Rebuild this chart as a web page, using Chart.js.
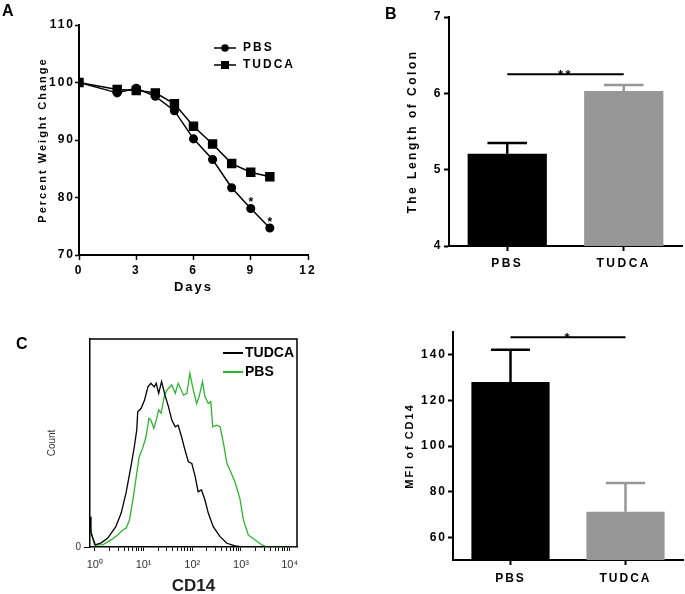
<!DOCTYPE html>
<html>
<head>
<meta charset="utf-8">
<script src="https://cdn.jsdelivr.net/npm/chart.js@4"></script>
<style>
	body { margin: 0; background: #fff; overflow: hidden; width: 685px; height: 594px; position: relative; font-family: 'Liberation Sans', Arial, sans-serif; }
	canvas { position: absolute; }
	.tag { position: absolute; font-weight: bold; font-size: 16px; line-height: 16px; color: #000; }
</style>
</head>
<body>
<canvas id="weight-chart" width="330" height="300" style="left:0;top:0"></canvas>
<canvas id="colon-chart" width="345" height="300" style="left:340px;top:0"></canvas>
<canvas id="hist-chart" width="340" height="300" style="left:0;top:300px"></canvas>
<canvas id="mfi-chart" width="340" height="294" style="left:345px;top:300px"></canvas>
<div class="tag" style="left:2px;top:3px">A</div>
<div class="tag" style="left:385px;top:6px">B</div>
<div class="tag" style="left:16px;top:336px">C</div>
<script>
// Weight curve (panel A)
const days = [0, 2, 3, 4, 5, 6, 7, 8, 9, 10];
const weightPBS = [100, 98.2, 99.0, 97.6, 95.1, 90.2, 86.6, 81.7, 78.1, 74.7];
const weightTUDCA = [100, 98.8, 98.6, 98.2, 96.3, 92.4, 89.3, 85.9, 84.4, 83.6];
const weightSigDays = [9, 10];

// Bars (panels B and D)
const groups = ['PBS', 'TUDCA'];
const colonMean = [5.21, 6.03];
const colonSem = [0.14, 0.08];
const mfiMean = [128.1, 71.2];
const mfiSem = [14.1, 12.6];
const mfiTicks = [60, 80, 100, 120, 140];

// CD14 histogram (panel C), x in decades (10^x), y in % of frame height
const tudcaDecade = [-0.1, -0.08, 0.01, 0.13, 0.26, 0.43, 0.54, 0.64, 0.74, 0.81, 0.86, 0.88, 0.95, 1.02, 1.09, 1.15, 1.22, 1.26, 1.31, 1.37, 1.44, 1.51, 1.58, 1.65, 1.71, 1.78, 1.85, 1.92, 1.99, 2.06, 2.12, 2.19, 2.26, 2.33, 2.43, 2.57, 2.71, 2.88, 3.02, 4.15];
const tudcaCount = [14.6, 6.7, 1, 2, 4.2, 9.8, 16.3, 26, 38.6, 48.2, 56.3, 65, 66.7, 70.7, 77, 78.7, 77, 78.7, 73.9, 79.5, 73, 67.5, 61, 57.8, 58.6, 53, 46.6, 41, 40.2, 33.8, 26.6, 27.4, 22.6, 16.2, 9.8, 5, 1.8, 0.5, 0, 0];
const pbsDecade = [-0.1, -0.01, 0.16, 0.33, 0.47, 0.57, 0.64, 0.71, 0.78, 0.85, 0.91, 0.98, 1.05, 1.11, 1.15, 1.21, 1.26, 1.31, 1.36, 1.43, 1.48, 1.58, 1.65, 1.71, 1.82, 1.89, 1.95, 2.02, 2.09, 2.14, 2.21, 2.26, 2.33, 2.38, 2.42, 2.50, 2.57, 2.64, 2.71, 2.81, 2.88, 2.98, 3.05, 3.15, 3.29, 3.43, 3.53, 4.15];
const pbsCount = [9.8, 1, 1, 3.4, 5.8, 8.2, 9, 13, 22.6, 33.8, 43.4, 47.4, 53, 61.9, 61, 57, 61, 65.9, 64.3, 73, 75.5, 77.9, 73.9, 78.7, 73, 73.9, 83.5, 75.5, 69, 72.3, 79.5, 72.3, 69, 69.9, 57.8, 58.6, 57.8, 49.9, 40.2, 35, 31, 23, 13, 5.8, 3.4, 1, 0, 0];
const decades = [0, 1, 2, 3, 4];
const sup = ['\u2070', '\u00b9', '\u00b2', '\u00b3', '\u2074'];

const FONT = "'Liberation Sans', Arial, sans-serif";
Chart.defaults.font.family = FONT;
Chart.defaults.color = '#000';

// letter spacing for the spaced-out GraphPad text
const spacing = {
	id: 'spacing',
	beforeDraw(chart, args, opts) {
		chart.ctx.letterSpacing = (opts.px || 0) + 'px';
	}
};

// little legend: line (+ marker) and label
const miniLegend = {
	id: 'miniLegend',
	afterDraw(chart, args, o) {
		const ctx = chart.ctx;
		chart.data.datasets.forEach((ds, i) => {
			const y = o.y + i * o.gap;
			ctx.save();
			ctx.strokeStyle = ds.borderColor;
			ctx.fillStyle = ds.borderColor;
			ctx.lineWidth = o.lineWidth;
			ctx.beginPath();
			ctx.moveTo(o.x, y);
			ctx.lineTo(o.x + o.len, y);
			ctx.stroke();
			if (o.marker) {
				const cx = o.x + o.len / 2;
				if (ds.pointStyle === 'rect') {
					ctx.fillRect(cx - 4, y - 4, 8, 8);
				} else {
					ctx.beginPath();
					ctx.arc(cx, y, ds.pointRadius, 0, Math.PI * 2);
					ctx.fill();
				}
			}
			ctx.fillStyle = '#000';
			ctx.font = o.font;
			ctx.textBaseline = 'middle';
			ctx.fillText(ds.label, o.x + o.len + o.textGap, y);
			ctx.restore();
		});
	}
};

// stars over significant days
const weightStars = {
	id: 'weightStars',
	afterDatasetsDraw(chart) {
		const ctx = chart.ctx;
		const meta = chart.getDatasetMeta(0);
		ctx.save();
		ctx.font = 'bold 12px ' + FONT;
		ctx.textAlign = 'center';
		ctx.textBaseline = 'alphabetic';
		days.forEach((d, i) => {
			if (weightSigDays.includes(d)) {
				const p = meta.data[i];
				ctx.fillText('*', p.x + 1, p.y - 2);
			}
		});
		ctx.restore();
	}
};

// error bars + significance line for bar panels
const barExtras = {
	id: 'barExtras',
	afterDatasetsDraw(chart, args, o) {
		const {ctx, scales: {x, y}} = chart;
		const meta = chart.getDatasetMeta(0);
		ctx.save();
		meta.data.forEach((bar, i) => {
			const top = y.getPixelForValue(o.means[i] + o.sems[i]);
			ctx.strokeStyle = o.colors[i];
			ctx.lineWidth = 2.5;
			ctx.beginPath();
			ctx.moveTo(bar.x, bar.y);
			ctx.lineTo(bar.x, top);
			ctx.moveTo(bar.x - bar.width / 4, top);
			ctx.lineTo(bar.x + bar.width / 4, top);
			ctx.stroke();
		});
		const x0 = x.getPixelForValue(0);
		const x1 = x.getPixelForValue(1);
		const ys = y.getPixelForValue(o.sigAt);
		ctx.strokeStyle = '#000';
		ctx.lineWidth = 2;
		ctx.beginPath();
		ctx.moveTo(x0, ys);
		ctx.lineTo(x1, ys);
		ctx.stroke();
		ctx.fillStyle = '#000';
		ctx.font = 'bold 13px ' + FONT;
		ctx.textAlign = 'center';
		ctx.textBaseline = 'alphabetic';
		ctx.fillText(o.sigText, (x0 + x1) / 2, ys + 5);
		ctx.restore();
	}
};

// box around the histogram
const frame = {
	id: 'frame',
	afterDraw(chart) {
		const {ctx, chartArea: a} = chart;
		ctx.save();
		ctx.strokeStyle = '#000';
		ctx.lineWidth = 1.5;
		ctx.beginPath();
		ctx.moveTo(a.left, a.top);
		ctx.lineTo(a.right, a.top);
		ctx.lineTo(a.right, a.bottom);
		ctx.stroke();
		ctx.restore();
	}
};

const boldTick = size => ({ size: size, weight: 'bold' });

// Panel A: weight change
new Chart(document.getElementById('weight-chart'), {
	type: 'line',
	data: {
		datasets: [{
			label: 'PBS',
			data: days.map((d, i) => ({ x: d, y: weightPBS[i] })),
			borderColor: '#000',
			backgroundColor: '#000',
			borderWidth: 1.5,
			pointStyle: 'circle',
			pointRadius: 3.8,
			tension: 0
		}, {
			label: 'TUDCA',
			data: days.map((d, i) => ({ x: d, y: weightTUDCA[i] })),
			borderColor: '#000',
			backgroundColor: '#000',
			borderWidth: 1.5,
			pointStyle: 'rect',
			pointRadius: 5.6,
			tension: 0
		}]
	},
	options: {
		responsive: false,
		animation: false,
		layout: { padding: { top: 25, right: 22, left: 0, bottom: 0 } },
		plugins: {
			legend: { display: false },
			tooltip: { enabled: false },
			spacing: { px: 2 },
			miniLegend: { x: 214, y: 48, gap: 17, len: 22, lineWidth: 1.5, marker: true, textGap: 7, font: 'bold 12px ' + FONT }
		},
		scales: {
			x: {
				type: 'linear',
				min: 0,
				max: 12,
				afterFit: s => { s.height = 45; },
				ticks: { stepSize: 3, font: boldTick(12), padding: 3 },
				grid: { drawOnChartArea: false, tickLength: 5, tickColor: '#000', tickWidth: 1.5 },
				border: { color: '#000', width: 2 },
				title: { display: true, text: 'Days', font: boldTick(13), padding: { top: 0, bottom: 5 } }
			},
			y: {
				min: 70,
				max: 110,
				afterFit: s => { s.width = 79; },
				ticks: { stepSize: 10, font: boldTick(12), padding: 0 },
				grid: { drawOnChartArea: false, tickLength: 4, tickColor: '#000', tickWidth: 1.5 },
				border: { color: '#000', width: 2 },
				title: { display: true, text: 'Percent Weight Change', font: boldTick(11), padding: { top: 36, bottom: 0 } }
			}
		}
	},
	plugins: [spacing, miniLegend, weightStars]
});

// Panels B and D: bar charts with error bars
function barPanel(id, means, sems, o) {
	new Chart(document.getElementById(id), {
		type: 'bar',
		data: {
			labels: groups,
			datasets: [{
				data: means,
				backgroundColor: ['#000', '#979797'],
				borderWidth: 0,
				categoryPercentage: 1,
				barPercentage: 0.68
			}]
		},
		options: {
			responsive: false,
			animation: false,
			layout: { padding: o.padding },
			plugins: {
				legend: { display: false },
				tooltip: { enabled: false },
				spacing: { px: o.spacing },
				barExtras: { means: means, sems: sems, colors: ['#000', '#979797'], sigAt: o.sigAt, sigText: o.sigText }
			},
			scales: {
				x: {
					afterFit: s => { s.height = o.xHeight; },
					ticks: { font: boldTick(12), padding: o.xPad },
					grid: { offset: false, drawOnChartArea: false, tickLength: 5, tickColor: '#000', tickWidth: 2 },
					border: { color: '#000', width: 2 }
				},
				y: {
					min: o.min,
					max: o.max,
					afterFit: s => { s.width = o.yWidth; },
					afterBuildTicks: o.yTicks ? s => { s.ticks = o.yTicks.map(v => ({ value: v })); } : undefined,
					ticks: { stepSize: 1, font: boldTick(12), padding: 1 },
					grid: { drawOnChartArea: false, tickLength: 5, tickColor: '#000', tickWidth: 2 },
					border: { color: '#000', width: 2 },
					title: { display: true, text: o.title, font: boldTick(o.titleSize), padding: { top: o.titlePad, bottom: 0 } }
				}
			}
		},
		plugins: [spacing, barExtras]
	});
}

barPanel('colon-chart', colonMean, colonSem, {
	padding: { top: 17, right: 3, left: 0, bottom: 0 },
	xHeight: 54, xPad: 5, yWidth: 109,
	min: 4, max: 7,
	title: 'The Length of Colon', titleSize: 12, titlePad: 65,
	spacing: 2.5, sigAt: 6.25, sigText: '**'
});

barPanel('mfi-chart', mfiMean, mfiSem, {
	padding: { top: 32, right: 2, left: 0, bottom: 0 },
	xHeight: 34, xPad: 6, yWidth: 108,
	min: 50, max: 150, yTicks: mfiTicks,
	title: 'MFI of CD14', titleSize: 11, titlePad: 58,
	spacing: 2, sigAt: 147.7, sigText: '*'
});

// Panel C: CD14 histogram
new Chart(document.getElementById('hist-chart'), {
	type: 'line',
	data: {
		datasets: [{
			label: 'TUDCA',
			data: tudcaDecade.map((x, i) => ({ x: x, y: tudcaCount[i] })),
			borderColor: '#000',
			borderWidth: 1.3,
			pointRadius: 0,
			tension: 0
		}, {
			label: 'PBS',
			data: pbsDecade.map((x, i) => ({ x: x, y: pbsCount[i] })),
			borderColor: '#2db52d',
			borderWidth: 1.3,
			pointRadius: 0,
			tension: 0
		}]
	},
	options: {
		responsive: false,
		animation: false,
		layout: { padding: { top: 39, right: 43, left: 0, bottom: 0 } },
		plugins: {
			legend: { display: false },
			tooltip: { enabled: false },
			miniLegend: { x: 223, y: 53, gap: 19, len: 20, lineWidth: 2, marker: false, textGap: 2, font: 'bold 14px ' + FONT }
		},
		scales: {
			x: {
				type: 'linear',
				min: -0.1,
				max: 4.15,
				afterFit: s => { s.height = 53; },
				afterBuildTicks: s => {
					const t = [];
					decades.forEach(d => {
						t.push({ value: d });
						if (d < 4) {
							for (let k = 2; k <= 9; k++) t.push({ value: d + Math.log10(k) });
						}
					});
					s.ticks = t;
				},
				ticks: {
					autoSkip: false,
					maxRotation: 0,
					color: '#333',
					font: { size: 11 },
					padding: 7,
					callback: v => Number.isInteger(v) ? '10' + sup[v] : ''
				},
				grid: { drawOnChartArea: false, tickLength: 4, tickColor: '#000', tickWidth: 1 },
				border: { color: '#000', width: 1.5 },
				title: { display: true, text: 'CD14', color: '#222', font: boldTick(17), padding: { top: 0, bottom: 3 } }
			},
			y: {
				min: 0,
				max: 100,
				afterFit: s => { s.width = 90; },
				afterBuildTicks: s => { s.ticks = [{ value: 0 }]; },
				ticks: { color: '#333', font: { size: 10 }, padding: 3 },
				grid: { drawOnChartArea: false, tickLength: 6, tickColor: '#000', tickWidth: 1 },
				border: { color: '#000', width: 1.5 },
				title: { display: true, text: 'Count', color: '#333', font: { size: 10 }, padding: { top: 46, bottom: 0 } }
			}
		}
	},
	plugins: [miniLegend, frame]
});
</script>
</body>
</html>
